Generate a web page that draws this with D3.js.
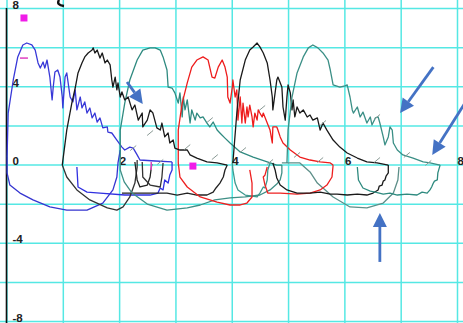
<!DOCTYPE html>
<html><head><meta charset="utf-8">
<script src="https://cdn.jsdelivr.net/npm/d3@7"></script>
<style>html,body{margin:0;padding:0;background:#fff;overflow:hidden}</style>
</head><body><svg id="c" width="463" height="323"></svg>
<script>
// ---- data (volume L, flow L/s) ----
const xTicks = [0,1,2,3,4,5,6,7,8];
const yTicks = [-8,-6,-4,-2,0,2,4,6,8];
const xLabels = ["2","4","6","8"];
const xLabelVals = [2,4,6,8];
const yLabels = ["8","4","0","-4","-8"];
const yLabelVals = [8,4,0,-4,-8];

const blueExp = [[0.01,0.38],[0.03,2.63],[0.12,4.32],[0.20,5.50],[0.29,6.11],[0.36,6.21],[0.45,6.11],[0.51,5.85],[0.56,5.19],[0.60,4.93],[0.65,5.24],[0.68,4.93],[0.72,5.34],[0.77,4.47],[0.81,3.30],[0.83,3.96],[0.86,4.73],[0.91,4.83],[0.95,4.47],[0.99,3.45],[1.00,2.89],[1.04,4.47],[1.07,4.68],[1.13,3.45],[1.18,3.20],[1.22,3.81],[1.25,2.79],[1.31,3.45],[1.34,2.89],[1.39,3.20],[1.43,2.63],[1.48,2.89],[1.52,2.38],[1.57,2.63],[1.61,2.17],[1.66,2.38],[1.71,1.87],[1.79,1.92],[1.80,1.66],[1.87,1.61],[1.96,1.25],[2.05,0.89],[2.10,0.74],[2.19,0.89],[2.25,0.84],[2.32,0.49],[2.37,0.23],[2.64,0.18],[2.94,0.13]];
const blueInsp = [[0.01,0.38],[0.01,-0.43],[0.06,-1.05],[0.24,-1.46],[0.47,-1.81],[0.77,-2.17],[1.07,-2.33],[1.43,-2.33],[1.71,-1.97],[1.89,-1.30],[1.96,-0.64],[1.98,0.08],[2.02,0.74]];
const blueInsp2 = [[1.25,-0.13],[1.27,-1.15],[1.43,-1.41],[1.66,-1.46],[2.10,-1.56],[2.55,-1.56],[2.69,-1.46],[2.73,-1.20],[2.78,-1.30],[2.81,-0.79],[2.87,-0.95],[2.90,-0.54],[2.94,-0.28],[2.94,0.13]];

const blackExp1 = [[0.99,-0.03],[1.07,1.76],[1.16,3.14],[1.22,3.91],[1.27,4.68],[1.34,5.19],[1.39,5.50],[1.45,5.70],[1.52,5.85],[1.54,5.96],[1.57,5.70],[1.61,5.85],[1.66,5.44],[1.70,5.70],[1.75,5.19],[1.79,5.34],[1.84,5.09],[1.87,4.32],[1.89,3.96],[1.93,4.47],[1.96,3.81],[1.98,4.17],[2.02,3.45],[2.05,3.71],[2.10,3.30],[2.16,3.45],[2.23,2.79],[2.28,3.04],[2.34,2.27],[2.41,2.63],[2.42,1.92],[2.50,2.27],[2.55,2.79],[2.60,2.63],[2.67,1.87],[2.73,1.76],[2.76,2.12],[2.81,1.41],[2.87,1.61],[2.90,1.10],[2.96,1.25],[2.99,0.84],[3.08,0.74],[3.21,0.74],[3.26,0.49],[3.38,0.33],[3.56,0.13],[3.74,0.08],[3.92,-0.03]];
const blackInsp1 = [[0.99,-0.03],[1.07,-0.64],[1.25,-1.30],[1.48,-1.81],[1.79,-2.22],[1.96,-2.33],[2.07,-2.17],[2.19,-1.66],[2.28,-0.95],[2.32,-0.13],[2.32,0.23]];
const blackInsp2 = [[3.92,-0.03],[3.88,-0.28],[3.85,-0.64],[3.79,-0.95],[3.72,-1.20],[3.67,-1.41],[3.56,-1.56],[3.38,-1.56],[3.21,-1.46],[3.03,-1.56],[2.85,-1.46],[2.67,-1.46],[2.42,-1.46],[2.19,-1.46],[2.05,-1.46]];
const blackU1 = [[2.28,0.13],[2.32,-0.79],[2.37,-1.15],[2.50,-1.05],[2.55,-0.64],[2.58,0.03]];
const blackU2 = [[2.41,0.13],[2.42,-0.64],[2.55,-1.05],[2.73,-1.15],[2.76,-0.64],[2.78,0.08]];
const blackExp2 = [[4.02,0.08],[4.09,2.63],[4.15,4.32],[4.24,5.34],[4.32,5.85],[4.38,6.01],[4.45,6.21],[4.50,6.01],[4.56,5.70],[4.63,5.19],[4.68,4.32],[4.72,3.45],[4.73,2.79],[4.80,4.32],[4.82,4.47],[4.89,3.96],[4.91,2.94],[4.95,2.27],[4.98,3.45],[5.00,4.07],[5.04,3.66],[5.07,2.79],[5.09,3.30],[5.12,2.43],[5.16,2.94],[5.21,2.63],[5.27,2.79],[5.34,2.43],[5.39,2.53],[5.44,2.27],[5.52,2.38],[5.57,1.76],[5.62,2.12],[5.69,1.76],[5.80,1.25],[5.92,0.89],[6.05,0.59],[6.23,0.33],[6.40,0.13],[6.58,0.08],[6.78,-0.03]];
const blackInsp3 = [[6.78,-0.03],[6.78,-0.43],[6.74,-0.60],[6.72,-0.79],[6.69,-0.85],[6.67,-1.05],[6.62,-1.10],[6.60,-1.30],[6.51,-1.46],[6.40,-1.56],[6.23,-1.51],[6.05,-1.56],[5.87,-1.51],[5.75,-1.51],[5.57,-1.41],[5.39,-1.46],[5.16,-1.46],[4.98,-1.30],[4.86,-1.05],[4.80,-0.69],[4.77,-0.28],[4.73,0.08]];

const tealExp1 = [[2.02,0.38],[2.02,1.76],[2.10,3.14],[2.19,4.32],[2.32,5.34],[2.42,5.85],[2.55,5.96],[2.64,5.96],[2.73,5.85],[2.78,5.50],[2.85,4.83],[2.87,3.96],[2.94,3.91],[2.99,3.66],[3.05,3.14],[3.08,3.66],[3.12,2.43],[3.14,3.45],[3.17,2.79],[3.21,3.30],[3.26,2.12],[3.29,2.79],[3.35,2.27],[3.38,2.63],[3.44,2.38],[3.49,2.43],[3.56,2.12],[3.61,1.92],[3.67,2.17],[3.74,1.76],[3.79,1.61],[3.88,1.35],[3.97,1.10],[4.15,0.64],[4.38,0.38],[4.63,0.13],[4.80,-0.03],[4.89,-0.03]];
const tealInsp1 = [[4.89,-0.03],[4.89,-0.43],[4.86,-0.79],[4.80,-1.00],[4.68,-1.30],[4.50,-1.56],[4.24,-1.66],[3.97,-1.71],[3.70,-1.81],[3.44,-2.07],[3.21,-2.22],[2.85,-2.33],[2.50,-2.02],[2.23,-1.46],[2.09,-0.89],[2.02,-0.28],[2.02,0.38]];
const tealInsp2 = [[4.01,0.08],[4.02,-0.28],[4.06,-0.95],[4.11,-1.30],[4.24,-1.56],[4.45,-1.66],[4.50,-1.46],[4.56,-1.15],[4.59,-1.20],[4.63,-0.79],[4.64,-0.28],[4.68,0.08]];
const tealExp2 = [[4.98,0.08],[5.00,1.76],[5.07,3.45],[5.16,4.68],[5.27,5.50],[5.36,5.96],[5.44,6.11],[5.53,5.96],[5.62,5.70],[5.71,5.34],[5.75,4.83],[5.80,4.07],[5.92,3.96],[6.01,4.02],[6.05,4.07],[6.10,3.45],[6.14,2.79],[6.16,2.63],[6.23,2.94],[6.28,2.43],[6.33,2.68],[6.40,2.12],[6.46,2.43],[6.49,2.02],[6.55,2.38],[6.60,2.43],[6.63,2.12],[6.69,1.41],[6.72,1.00],[6.78,1.41],[6.81,1.92],[6.85,1.76],[6.87,1.10],[6.94,0.74],[7.04,0.49],[7.22,0.33],[7.40,0.13],[7.52,0.08],[7.70,-0.03]];
const tealInsp3 = [[7.70,-0.03],[7.66,-0.43],[7.65,-0.79],[7.60,-0.85],[7.58,-0.95],[7.55,-1.15],[7.52,-1.30],[7.47,-1.46],[7.38,-1.41],[7.29,-1.56],[7.11,-1.51],[6.94,-1.56],[6.81,-1.46],[6.69,-1.51],[6.55,-1.41],[6.46,-1.36],[6.33,-1.20],[6.25,-0.79],[6.23,-0.13]];
const grayArc = [[4.89,0.08],[5.21,0.08],[5.39,-0.38],[5.52,-0.95],[5.80,-1.66],[6.10,-2.17],[6.40,-2.22],[6.69,-1.97],[6.87,-1.46],[6.95,-0.79],[6.97,-0.13]];

const redExp = [[3.05,0.08],[3.05,1.76],[3.12,3.14],[3.21,4.17],[3.29,4.98],[3.38,5.34],[3.49,5.50],[3.58,5.34],[3.65,4.47],[3.70,4.42],[3.76,4.98],[3.83,5.34],[3.88,4.98],[3.92,4.47],[3.93,3.45],[3.97,3.14],[4.01,3.96],[4.02,4.32],[4.06,3.45],[4.09,3.81],[4.11,2.27],[4.15,3.45],[4.18,2.12],[4.20,3.14],[4.24,2.12],[4.27,2.94],[4.29,2.43],[4.32,3.04],[4.36,2.43],[4.38,1.92],[4.41,2.63],[4.45,2.27],[4.47,2.79],[4.50,2.63],[4.54,2.43],[4.56,2.63],[4.63,2.12],[4.68,1.76],[4.72,1.10],[4.73,1.92],[4.80,1.92],[4.82,1.76],[4.86,1.41],[4.91,1.10],[5.04,0.74],[5.21,0.38],[5.39,0.23],[5.57,0.13],[5.75,0.08],[5.80,-0.03]];
const redInsp1 = [[5.80,-0.03],[5.78,-0.64],[5.69,-1.05],[5.57,-1.30],[5.39,-1.46],[5.16,-1.51],[4.86,-1.46],[4.64,-1.46],[4.59,-1.05],[4.56,-0.64],[4.59,-0.54],[4.63,-0.13]];
const redInsp2 = [[3.05,0.08],[3.08,-0.64],[3.21,-1.15],[3.44,-1.66],[3.74,-1.92],[3.97,-2.07],[4.15,-2.07],[4.27,-1.97],[4.36,-1.66],[4.36,-0.95],[4.32,-0.28]];

const slashMarks = [[2.25,0.84],[2.55,1.61],[2.73,0.13],[3.21,0.89],[3.61,2.27],[3.70,0.38],[4.20,0.74],[4.54,2.89],[4.68,0.13],[5.16,0.49],[5.62,2.12],[5.57,0.23],[6.58,2.43],[6.58,0.23],[7.11,0.49],[7.49,0.08]];
const magentaSquares = [[0.31,7.49],[3.31,-0.08]];
const magentaDash = [[0.31,5.44]];
const magentaTick = [[2.57,-0.08]];
const arrows = [[[2.14,4.22],[2.42,3.09]],[[7.58,4.98],[6.99,2.63]],[[8.14,3.14],[7.56,0.49]],[[6.63,-4.98],[6.63,-2.48]]];

// ---- drawing ----
const svg = d3.select("#c");
const W = 463, H = 323;
const x = d3.scaleLinear().domain([0,8]).range([6.5,457]);
const y = d3.scaleLinear().domain([-8,8]).range([321,8]);
const gridColor = "#55e8e4";

svg.append("g")
  .call(d3.axisTop(x).tickValues(xTicks).tickSize(-H).tickFormat(""))
  .call(g=>g.select(".domain").remove())
  .call(g=>g.selectAll("line").attr("stroke",gridColor).attr("stroke-width",1.5));
svg.append("g")
  .call(d3.axisLeft(y).tickValues(yTicks).tickSize(-W).tickFormat(""))
  .call(g=>g.select(".domain").remove())
  .call(g=>g.selectAll("line").attr("stroke",gridColor).attr("stroke-width",1.5));

svg.append("line").attr("x1",x(0)).attr("x2",x(0)).attr("y1",y(8)).attr("y2",H)
  .attr("stroke","#111").attr("stroke-width",1.6);

const lab = svg.append("g").attr("font-family","Arial, Liberation Sans, sans-serif")
  .attr("font-size",11.5).attr("font-weight","bold").attr("fill","#222");
lab.selectAll("text.x").data(xLabelVals).join("text").attr("class","x")
  .attr("x",(d)=>x(d)+0.5).attr("y",y(0)+0.5).text((d,i)=>xLabels[i]);
lab.selectAll("text.y").data(yLabelVals).join("text").attr("class","y")
  .attr("x",x(0)+6).attr("y",d=>y(d)+0.5).text((d,i)=>yLabels[i]);

// cropped glyph fragment at the top edge (decoration)
svg.append("path").attr("d","M59,0 Q56,5 64,6").attr("fill","none")
  .attr("stroke","#111").attr("stroke-width",2.4);

const line = d3.line().x(d=>x(d[0])).y(d=>y(d[1]));
const series = [
  [grayArc,"#5d8f89"],[tealInsp2,"#3f9a8f"],
  [blueInsp,"#3535d0"],[blueInsp2,"#3030e0"],[blueExp,"#3838d8"],
  [blackInsp1,"#333"],[blackU1,"#222"],[blackU2,"#333"],[blackInsp2,"#222"],
  [tealInsp1,"#3f8f86"],[tealExp1,"#2f8a80"],
  [redInsp2,"#ee2020"],[redInsp1,"#ee2020"],[redExp,"#ee1c1c"],
  [blackExp1,"#1a1a1a"],[blackInsp3,"#1a1a1a"],[blackExp2,"#1a1a1a"],
  [tealInsp3,"#2e8a7f"],[tealExp2,"#3b8f86"]
];
svg.append("g").selectAll("path").data(series).join("path")
  .attr("d",d=>line(d[0])).attr("fill","none").attr("stroke",d=>d[1])
  .attr("stroke-width",1.3).attr("stroke-linejoin","round");

svg.append("g").selectAll("line").data(slashMarks).join("line")
  .attr("x1",d=>x(d[0])-3).attr("y1",d=>y(d[1])+2.5)
  .attr("x2",d=>x(d[0])+3).attr("y2",d=>y(d[1])-2.5)
  .attr("stroke","#8a9a95").attr("stroke-width",1);

svg.append("g").selectAll("rect").data(magentaSquares).join("rect")
  .attr("x",d=>x(d[0])-3.5).attr("y",d=>y(d[1])-3.5).attr("width",7).attr("height",7).attr("fill","#f01ce8");
svg.append("g").selectAll("line").data(magentaDash).join("line")
  .attr("x1",d=>x(d[0])-4).attr("x2",d=>x(d[0])+4).attr("y1",d=>y(d[1])).attr("y2",d=>y(d[1]))
  .attr("stroke","#e040c0").attr("stroke-width",1.5);
svg.append("g").selectAll("line").data(magentaTick).join("line")
  .attr("x1",d=>x(d[0])).attr("x2",d=>x(d[0])).attr("y1",d=>y(d[1])-4).attr("y2",d=>y(d[1])+4)
  .attr("stroke","#e040c0").attr("stroke-width",1.5);

const arrowColor = "#4472c4";
const ag = svg.append("g");
arrows.forEach(a=>{
  const x1=x(a[0][0]), y1=y(a[0][1]), x2=x(a[1][0]), y2=y(a[1][1]);
  const ang=Math.atan2(y2-y1,x2-x1), L=14, Wd=7;
  const bx=x2-L*Math.cos(ang), by=y2-L*Math.sin(ang);
  ag.append("line").attr("x1",x1).attr("y1",y1).attr("x2",bx).attr("y2",by)
    .attr("stroke",arrowColor).attr("stroke-width",2.8);
  const px=-Math.sin(ang), py=Math.cos(ang);
  ag.append("polygon").attr("points",[[x2,y2],[bx+Wd*px,by+Wd*py],[bx-Wd*px,by-Wd*py]].map(p=>p.join(",")).join(" "))
    .attr("fill",arrowColor);
});
</script></body></html>
